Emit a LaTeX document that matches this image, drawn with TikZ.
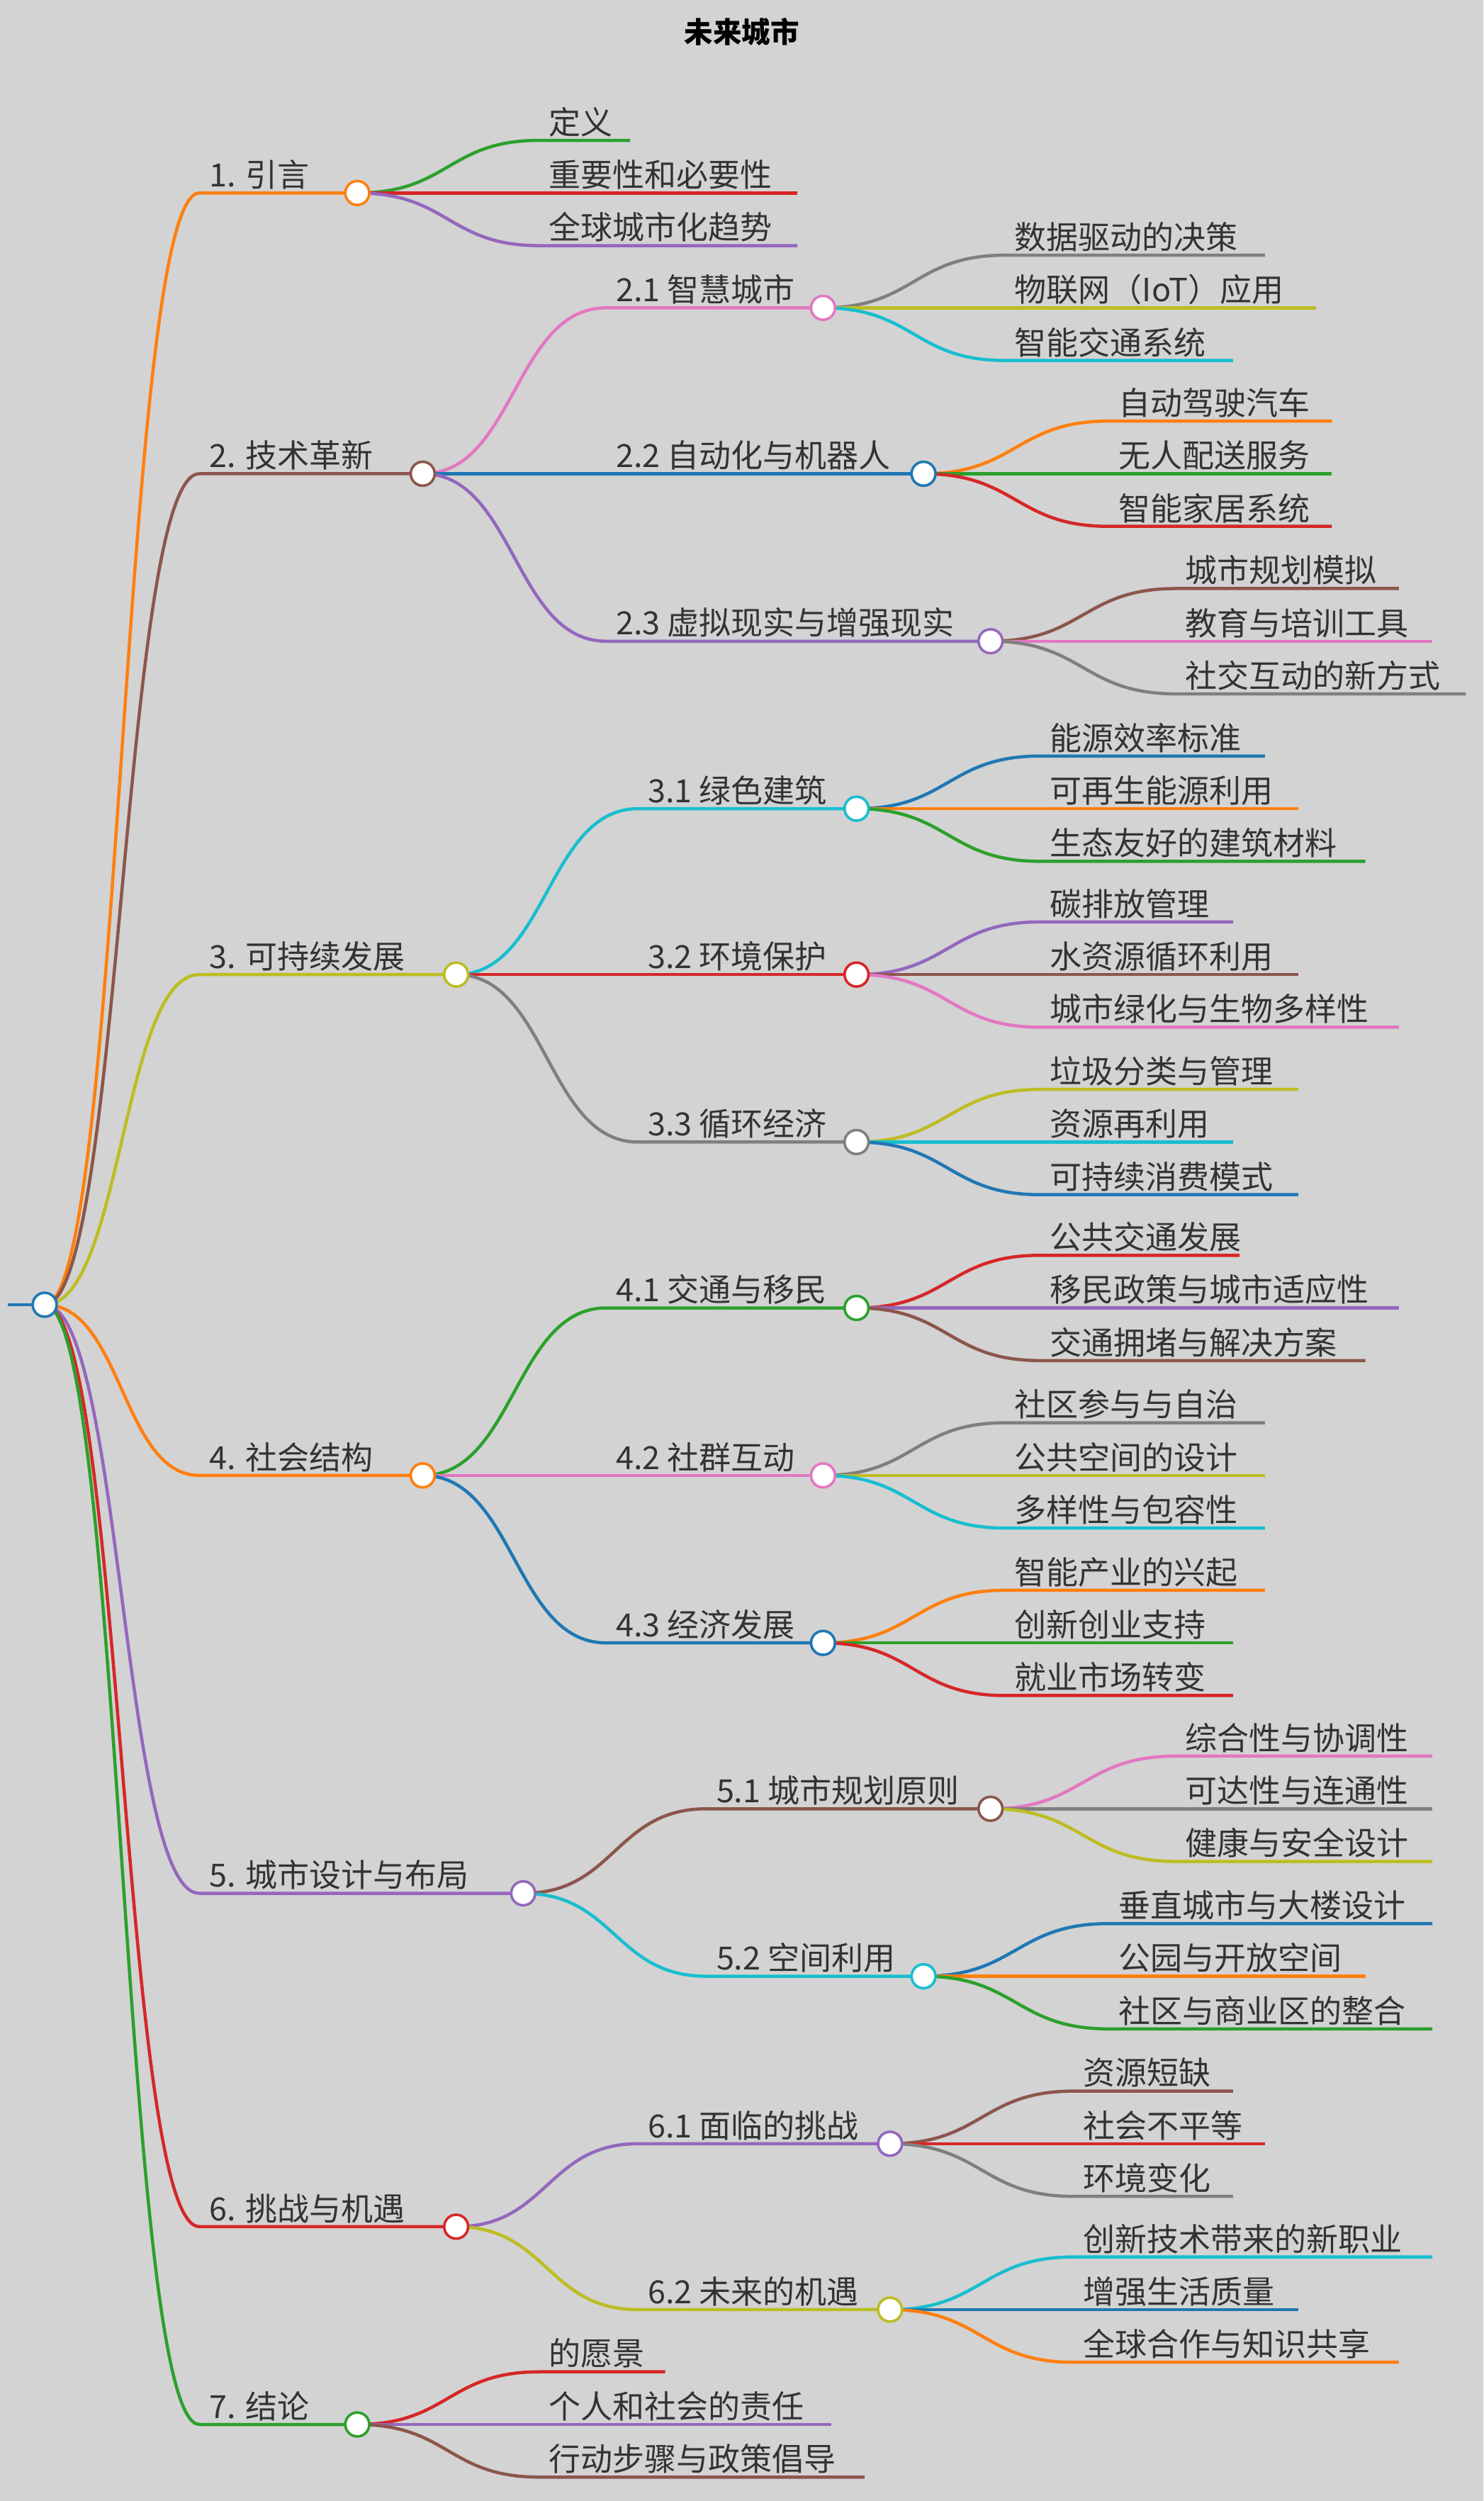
\documentclass[tikz,border=0pt]{standalone}
\usepackage{fontspec}
\setmainfont{Noto Sans CJK SC}
\usetikzlibrary{calc}
\definecolor{cor}{HTML}{FF7F0E}\definecolor{cbr}{HTML}{8C564B}\definecolor{col}{HTML}{BCBD22}
\definecolor{cpu}{HTML}{9467BD}\definecolor{cre}{HTML}{D62728}\definecolor{cgr}{HTML}{2CA02C}
\definecolor{cbl}{HTML}{1F77B4}\definecolor{cpi}{HTML}{E377C2}\definecolor{cgy}{HTML}{7F7F7F}
\definecolor{ccy}{HTML}{17BECF}\definecolor{bg}{HTML}{D3D3D3}\definecolor{tx}{HTML}{333333}
\tikzset{lbl/.style={anchor=south west,inner sep=2pt,text=tx,font=\fontsize{20}{22}\selectfont},
 link/.style={line width=2pt},
 knob/.style={circle,draw,fill=white,line width=1.6pt,minimum size=15pt,inner sep=0pt}}
\newcommand\br[7]{% parent, name, startx, endx, y, color, text
 \coordinate (#2) at (#4,#5);
 \coordinate (#2s) at (#3,#5);
 \path ($(#1)!0.5!(#2s)$) coordinate (#2m);
 \draw[link,#6] (#1) .. controls (#2m|-#1) and (#2m|-#2s) .. (#2s) -- (#2);
 \node[lbl] (#2t) at ($(#2s)+(4,0)$) {#7};}
\newcommand\knb[2]{\node[knob,draw=#2] (#1k) at (#1) {};}
\begin{document}
\begin{tikzpicture}[x=1pt,y=-1pt]
\fill[bg] (0,0) rectangle (930,1568);
\useasboundingbox (0,0) rectangle (930,1568);
\node[font=\bfseries\fontsize{18}{20}\selectfont,text=black] (title) at (465,20) {未来城市};
\coordinate (R) at (28,818);
\coordinate (R0) at (5,818);
\draw[link,cbl] (R0) -- (R);
% level 1
\br{R}{A}{125}{224}{121}{cor}{1. 引言}
\br{R}{B}{125}{265}{297}{cbr}{2. 技术革新}
\br{R}{C}{125}{286}{611}{col}{3. 可持续发展}
\br{R}{D}{125}{265}{925}{cor}{4. 社会结构}
\br{R}{E}{125}{328}{1187}{cpu}{5. 城市设计与布局}
\br{R}{F}{125}{286}{1396}{cre}{6. 挑战与机遇}
\br{R}{G}{125}{224}{1520}{cgr}{7. 结论}
% level 2
\br{B}{B1}{380}{516}{193}{cpi}{2.1 智慧城市}
\br{B}{B2}{380}{579}{297}{cbl}{2.2 自动化与机器人}
\br{B}{B3}{380}{621}{402}{cpu}{2.3 虚拟现实与增强现实}
\br{C}{C1}{400}{537}{507}{ccy}{3.1 绿色建筑}
\br{C}{C2}{400}{537}{611}{cre}{3.2 环境保护}
\br{C}{C3}{400}{537}{716}{cgy}{3.3 循环经济}
\br{D}{D1}{380}{537}{820}{cgr}{4.1 交通与移民}
\br{D}{D2}{380}{516}{925}{cpi}{4.2 社群互动}
\br{D}{D3}{380}{516}{1030}{cbl}{4.3 经济发展}
\br{E}{E1}{443}{621}{1134}{cbr}{5.1 城市规划原则}
\br{E}{E2}{443}{579}{1239}{ccy}{5.2 空间利用}
\br{F}{F1}{400}{558}{1344}{cpu}{6.1 面临的挑战}
\br{F}{F2}{400}{558}{1448}{col}{6.2 未来的机遇}
% leaves
\br{A}{Aa}{338}{395}{88}{cgr}{定义}
\br{A}{Ab}{338}{500}{121}{cre}{重要性和必要性}
\br{A}{Ac}{338}{500}{154}{cpu}{全球城市化趋势}
\br{B1}{B1a}{630}{793}{160}{cgy}{数据驱动的决策}
\br{B1}{B1b}{630}{825}{193}{col}{物联网（IoT）应用}
\br{B1}{B1c}{630}{773}{226}{ccy}{智能交通系统}
\br{B2}{B2a}{695}{835}{264}{cor}{自动驾驶汽车}
\br{B2}{B2b}{695}{835}{297}{cgr}{无人配送服务}
\br{B2}{B2c}{695}{835}{330}{cre}{智能家居系统}
\br{B3}{B3a}{737}{877}{369}{cbr}{城市规划模拟}
\br{B3}{B3b}{737}{898}{402}{cpi}{教育与培训工具}
\br{B3}{B3c}{737}{919}{435}{cgy}{社交互动的新方式}
\br{C1}{C1a}{652}{793}{474}{cbl}{能源效率标准}
\br{C1}{C1b}{652}{814}{507}{cor}{可再生能源利用}
\br{C1}{C1c}{652}{856}{540}{cgr}{生态友好的建筑材料}
\br{C2}{C2a}{652}{773}{578}{cpu}{碳排放管理}
\br{C2}{C2b}{652}{814}{611}{cbr}{水资源循环利用}
\br{C2}{C2c}{652}{877}{644}{cpi}{城市绿化与生物多样性}
\br{C3}{C3a}{652}{814}{683}{col}{垃圾分类与管理}
\br{C3}{C3b}{652}{773}{716}{ccy}{资源再利用}
\br{C3}{C3c}{652}{814}{749}{cbl}{可持续消费模式}
\br{D1}{D1a}{652}{777}{787}{cre}{公共交通发展}
\br{D1}{D1b}{652}{877}{820}{cpu}{移民政策与城市适应性}
\br{D1}{D1c}{652}{856}{853}{cbr}{交通拥堵与解决方案}
\br{D2}{D2a}{630}{793}{892}{cgy}{社区参与与自治}
\br{D2}{D2b}{630}{793}{925}{col}{公共空间的设计}
\br{D2}{D2c}{630}{793}{958}{ccy}{多样性与包容性}
\br{D3}{D3a}{630}{793}{997}{cor}{智能产业的兴起}
\br{D3}{D3b}{630}{773}{1030}{cgr}{创新创业支持}
\br{D3}{D3c}{630}{773}{1063}{cre}{就业市场转变}
\br{E1}{E1a}{737}{898}{1101}{cpi}{综合性与协调性}
\br{E1}{E1b}{737}{898}{1134}{cgy}{可达性与连通性}
\br{E1}{E1c}{737}{898}{1167}{col}{健康与安全设计}
\br{E2}{E2a}{695}{898}{1206}{cbl}{垂直城市与大楼设计}
\br{E2}{E2b}{695}{856}{1239}{cor}{公园与开放空间}
\br{E2}{E2c}{695}{898}{1272}{cgr}{社区与商业区的整合}
\br{F1}{F1a}{673}{773}{1311}{cbr}{资源短缺}
\br{F1}{F1b}{673}{793}{1344}{cre}{社会不平等}
\br{F1}{F1c}{673}{773}{1377}{cgy}{环境变化}
\br{F2}{F2a}{673}{898}{1415}{ccy}{创新技术带来的新职业}
\br{F2}{F2b}{673}{814}{1448}{cbl}{增强生活质量}
\br{F2}{F2c}{673}{877}{1481}{cor}{全球合作与知识共享}
\br{G}{Ga}{338}{417}{1487}{cre}{的愿景}
\br{G}{Gb}{338}{521}{1520}{cpu}{个人和社会的责任}
\br{G}{Gc}{338}{542}{1553}{cbr}{行动步骤与政策倡导}
% knobs
\knb{R}{cbl}
\knb{A}{cor}\knb{B}{cbr}\knb{C}{col}\knb{D}{cor}\knb{E}{cpu}\knb{F}{cre}\knb{G}{cgr}
\knb{B1}{cpi}\knb{B2}{cbl}\knb{B3}{cpu}
\knb{C1}{ccy}\knb{C2}{cre}\knb{C3}{cgy}
\knb{D1}{cgr}\knb{D2}{cpi}\knb{D3}{cbl}
\knb{E1}{cbr}\knb{E2}{ccy}
\knb{F1}{cpu}\knb{F2}{col}
\end{tikzpicture}
\end{document}
